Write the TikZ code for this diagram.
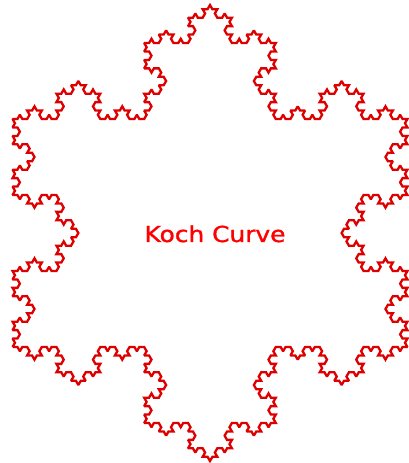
\documentclass[tikz,border=0pt]{standalone}
\usepackage{fontspec}
\setmainfont{DejaVu Sans}
\newfontfamily\titlefont{DejaVu Sans}[FakeBold=1.2]
\usetikzlibrary{lindenmayersystems}
\pgfdeclarelindenmayersystem{Koch}{\rule{F -> F-F++F-F}}
\definecolor{kochline}{RGB}{222,0,0}
\definecolor{kochtext}{RGB}{255,0,0}
\tikzset{
  flake/.style={draw=kochline, line width=2.3pt, line join=miter, miter limit=2},
  titletext/.style={text=kochtext, font=\titlefont\fontsize{22}{24}\selectfont, inner sep=0pt, xscale=1.13, transform shape}
}
\begin{document}
\begin{tikzpicture}[x=1pt,y=1pt]
\useasboundingbox (0,0) rectangle (409,463);
\begin{scope}[shift={(12.55,116)}]
\draw[flake, lindenmayer system={Koch, axiom=F++F++F, order=4, step=4.875pt, angle=60}]
  lindenmayer system;
\end{scope}
\node[titletext, anchor=base] (title) at (215,221) {Koch Curve};
\end{tikzpicture}
\end{document}
